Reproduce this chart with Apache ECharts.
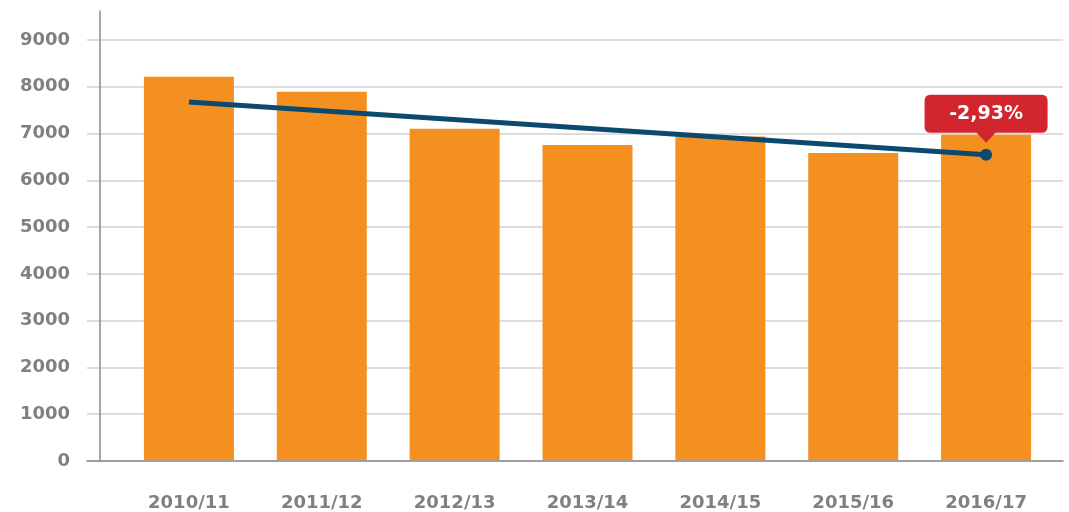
<!DOCTYPE html>
<html>
<head>
<meta charset="utf-8">
<script src="https://cdn.jsdelivr.net/npm/echarts@6/dist/echarts.min.js"></script>
<style>
  html, body { margin: 0; padding: 0; background: #ffffff; }
  #chart { width: 1069px; height: 512px; }
</style>
</head>
<body>
<div id="chart"></div>
<script>
// Seasons and yearly totals
const seasons = ['2010/11', '2011/12', '2012/13', '2013/14', '2014/15', '2015/16', '2016/17'];
const totals = [8210, 7890, 7100, 6750, 6930, 6580, 6970];
// Trend line: start and end values only (straight line across the period)
const trendStart = 7670;
const trendEnd = 6540;
const trendChange = '-2,93%';
// Value axis
const yMin = 0, yMax = 9000, yStep = 1000;

const gray = '#808082';
const font = '"DejaVu Sans", sans-serif';

const trendData = seasons.map((s, i) => {
  if (i === 0) return { value: trendStart, symbol: 'none' };
  if (i === seasons.length - 1) return { value: trendEnd, symbol: 'circle', symbolSize: 12 };
  return null;
});

const calloutPath = 'path://M6,0 H117 Q123,0 123,6 V32 Q123,38 117,38 H71 L61.5,48 L52,38 H6 Q0,38 0,32 V6 Q0,0 6,0 Z';

const chart = echarts.init(document.getElementById('chart'), null, { renderer: 'canvas' });
chart.setOption({
  animation: false,
  backgroundColor: '#ffffff',
  grid: [
    { left: 87, right: 6, top: 40, bottom: 51 },      // gridlines and value labels
    { left: 122.5, right: 16.5, top: 40, bottom: 51 },// bars and trend
    { left: 100, width: 10, top: 11, bottom: 51 }     // vertical axis line
  ],
  xAxis: [
    { gridIndex: 0, type: 'category', data: seasons,
      axisLine: { show: true, lineStyle: { color: '#8a8a8c', width: 1.5 } },
      axisTick: { show: false }, axisLabel: { show: false }, splitLine: { show: false } },
    { gridIndex: 1, type: 'category', data: seasons,
      axisLine: { show: false }, axisTick: { show: false },
      axisLabel: { color: gray, fontFamily: font, fontWeight: 'bold', fontSize: 18, margin: 34 } },
    { gridIndex: 2, type: 'value', show: false }
  ],
  yAxis: [
    { gridIndex: 0, type: 'value', min: yMin, max: yMax, interval: yStep,
      axisLine: { show: false }, axisTick: { show: false },
      axisLabel: { color: gray, fontFamily: font, fontWeight: 'bold', fontSize: 18, margin: 17,
        formatter: v => String(v) },
      splitLine: { show: true, lineStyle: { color: '#d2d2d2', width: 1.5 } } },
    { gridIndex: 1, type: 'value', min: yMin, max: yMax, interval: yStep,
      show: false },
    { gridIndex: 2, type: 'value', min: 0, max: 1,
      axisLine: { show: true, lineStyle: { color: '#8a8a8c', width: 1.5 } },
      axisTick: { show: false }, axisLabel: { show: false }, splitLine: { show: false } }
  ],
  series: [
    {
      type: 'bar', xAxisIndex: 1, yAxisIndex: 1,
      data: totals, barWidth: 90,
      itemStyle: { color: '#f39020' }
    },
    {
      type: 'line', xAxisIndex: 1, yAxisIndex: 1,
      data: trendData, connectNulls: true,
      lineStyle: { color: '#0b4a6e', width: 5 },
      itemStyle: { color: '#0b4a6e' },
      markPoint: {
        symbol: calloutPath,
        symbolSize: [123, 48],
        symbolKeepAspect: false,
        symbolOffset: [0, -36],
        itemStyle: { color: '#d2262e' },
        label: { show: true, position: 'inside', offset: [0, -5],
          color: '#ffffff', fontFamily: font, fontWeight: 'bold', fontSize: 19,
          formatter: () => trendChange },
        data: [{ coord: [seasons.length - 1, trendEnd] }]
      },
      z: 5
    }
  ]
});
</script>
</body>
</html>
